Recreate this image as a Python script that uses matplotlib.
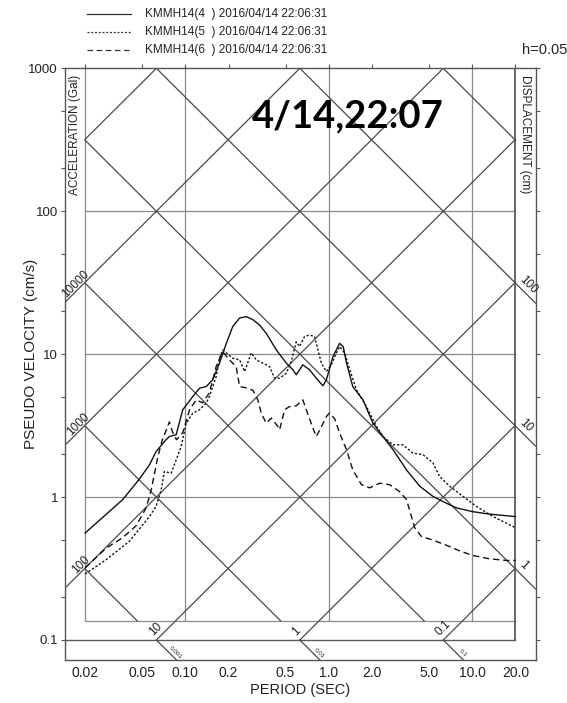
import numpy as np
import matplotlib
matplotlib.use("Agg")
import matplotlib.pyplot as plt
from matplotlib.ticker import FixedLocator, FixedFormatter, NullFormatter

plt.rcParams['font.family'] = ['Liberation Sans', 'DejaVu Sans']

# Pseudo-velocity response spectra (h = 0.05), KMMH14 channels 4, 5, 6
period_ch4 = [0.020, 0.0366, 0.0479, 0.0562, 0.0625, 0.0734, 0.0774, 0.0863, 0.0959, 0.1127,
              0.1256, 0.1396, 0.155, 0.173, 0.193, 0.214, 0.239, 0.266, 0.296, 0.329,
              0.366, 0.431, 0.506, 0.562, 0.593, 0.659, 0.734, 0.818, 0.910, 0.962,
              1.07, 1.19, 1.26, 1.33, 1.47, 1.73, 2.03, 2.39, 2.81, 3.48,
              4.31, 5.33, 6.25, 7.76, 10.1, 13.2, 20.0]
psv_ch4 = [0.56, 0.96, 1.34, 1.68, 2.08, 2.52, 2.65, 2.73, 4.08, 5.05,
           5.78, 5.93, 6.61, 8.65, 11.9, 15.6, 17.9, 18.3, 17.4, 16.0,
           14.0, 10.7, 8.65, 7.77, 7.17, 8.42, 7.77, 6.79, 6.0, 6.61,
           9.62, 11.9, 11.3, 8.65, 5.93, 4.79, 3.29, 2.65, 2.14, 1.55,
           1.19, 1.01, 0.93, 0.84, 0.79, 0.76, 0.73]

period_ch5 = [0.020, 0.0281, 0.0407, 0.0562, 0.0625, 0.0678, 0.0714, 0.0796, 0.0863, 0.0935,
              0.1014, 0.1127, 0.1256, 0.1396, 0.147, 0.164, 0.173, 0.182, 0.214, 0.239,
              0.259, 0.288, 0.312, 0.347, 0.386, 0.419, 0.454, 0.506, 0.548, 0.593,
              0.625, 0.678, 0.734, 0.796, 0.887, 0.962, 1.04, 1.13, 1.19, 1.29,
              1.40, 1.56, 1.83, 2.15, 2.39, 2.81, 3.29, 3.86, 4.54, 5.33,
              5.93, 6.97, 8.63, 10.7, 14.0, 20.0]
psv_ch5 = [0.29, 0.365, 0.49, 0.73, 0.86, 1.12, 1.51, 1.47, 1.82, 2.26,
           3.29, 3.87, 4.08, 4.54, 5.05, 6.97, 9.37, 10.7, 9.37, 9.12,
           7.56, 10.2, 9.12, 8.65, 8.19, 6.79, 6.79, 7.36, 8.88, 12.2,
           11.3, 13.3, 13.6, 13.3, 8.65, 7.56, 8.42, 10.2, 11.3, 10.2,
           7.77, 5.63, 4.30, 3.12, 2.65, 2.32, 2.32, 2.03, 1.98, 1.73,
           1.39, 1.19, 1.01, 0.86, 0.73, 0.61]

period_ch6 = [0.020, 0.0281, 0.0366, 0.0454, 0.0533, 0.0578, 0.061, 0.0643, 0.0692, 0.0738,
              0.0774, 0.0813, 0.0867, 0.0959, 0.107, 0.119, 0.132, 0.147, 0.164, 0.182,
              0.203, 0.226, 0.239, 0.273, 0.296, 0.320, 0.338, 0.366, 0.397, 0.442,
              0.454, 0.492, 0.533, 0.593, 0.659, 0.697, 0.774, 0.818, 0.887, 0.962,
              1.01, 1.10, 1.19, 1.33, 1.47, 1.69, 1.93, 2.26, 2.66, 3.12,
              3.48, 3.77, 3.97, 4.42, 5.33, 6.61, 8.18, 10.1, 13.2, 17.3, 20.0]
psv_ch6 = [0.32, 0.44, 0.52, 0.63, 0.84, 1.12, 1.47, 1.92, 2.52, 2.96,
           3.36, 2.86, 2.52, 2.82, 4.08, 4.79, 4.56, 5.36, 8.19, 10.4,
           9.12, 8.19, 5.93, 5.78, 5.58, 4.79, 3.87, 3.29, 3.57, 3.12,
           2.96, 4.08, 4.30, 4.35, 4.79, 4.08, 3.05, 2.65, 3.10, 3.66,
           3.87, 3.53, 2.80, 2.14, 1.55, 1.22, 1.16, 1.25, 1.22, 1.09,
           0.96, 0.73, 0.61, 0.53, 0.50, 0.46, 0.42, 0.39, 0.37, 0.36, 0.36]

legend_labels = ["KMMH14(4  ) 2016/04/14 22:06:31",
                 "KMMH14(5  ) 2016/04/14 22:06:31",
                 "KMMH14(6  ) 2016/04/14 22:06:31"]

period_ticks = [0.02, 0.05, 0.1, 0.2, 0.5, 1.0, 2.0, 5.0, 10.0, 20.0]
period_tick_labels = ["0.02", "0.05", "0.10", "0.2", "0.5", "1.0", "2.0", "5.0", "10.0", "20.0"]
velocity_ticks = [0.1, 1, 10, 100, 1000]
velocity_tick_labels = ["0.1", "1", "10", "100", "1000"]

accel_values = [0.1, 1, 10, 100, 1000, 10000, 100000]      # Gal
accel_left_labels = [100, 1000, 10000]
accel_bottom_labels = {10: "10", 1: "1", 0.1: "0.1"}
disp_values = [0.001, 0.01, 0.1, 1, 10, 100, 1000]        # cm
disp_right_labels = {1: "1", 10: "10", 100: "100"}
disp_bottom_labels = {0.001: "0.001", 0.01: "0.01", 0.1: "0.1"}

# chart frame
T_LO, T_HI = 0.02, 20.0
V_LAB, V_TOP = 0.1, 1000.0
V_BOX = 0.136
PAD = 10 ** 0.14
X_MIN, X_MAX = T_LO / PAD, T_HI * PAD
Y_MIN = V_LAB / PAD
TWO_PI = 2 * np.pi

W, H = 567, 703
fig = plt.figure(figsize=(W / 100, H / 100), dpi=100)


def fx(px):
    return px / W


def fy(py):
    return 1 - py / H


ax = fig.add_axes([fx(65), fy(660), fx(535.5) - fx(65), fy(68.3) - fy(660)])
ax.set_xscale('log')
ax.set_yscale('log')
ax.set_xlim(X_MIN, X_MAX)
ax.set_ylim(Y_MIN, V_TOP)

GRID = '#8a8a8a'
DIAG = '#4a4a4a'
BOX = '#5a5a5a'
TXT = '#222222'
for s in ax.spines.values():
    s.set_color('#555555')
    s.set_linewidth(1.0)

# rectangular grid
for v in [1, 10, 100]:
    ax.plot([T_LO, T_HI], [v, v], color=GRID, lw=0.9)
ax.plot([X_MIN, T_HI], [V_LAB, V_LAB], color=BOX, lw=1.0)
for t in [0.1, 1, 10]:
    ax.plot([t, t], [V_BOX, V_TOP], color=GRID, lw=0.9)
ax.plot([T_LO, T_LO, T_HI], [V_TOP, V_BOX, V_BOX], color=GRID, lw=0.9)
ax.plot([T_HI, T_HI], [V_LAB, V_TOP], color=BOX, lw=1.3)


def accel_v(a, t):
    return a * t / TWO_PI


def disp_v(d, t):
    return TWO_PI * d / t


lab_fs = 8.5
# constant-acceleration lines (slope +1)
for a in accel_values:
    if a in accel_left_labels:
        t0 = X_MIN
    else:
        t0 = max(T_LO, TWO_PI * V_LAB / a)
    t1 = min(T_HI, TWO_PI * V_TOP / a)
    ax.plot([t0, t1], [accel_v(a, t0), accel_v(a, t1)], color=DIAG, lw=0.9)
    if a in accel_left_labels:
        ax.annotate(f"{a:g}", xy=(T_LO, accel_v(a, T_LO)), xytext=(5, 4),
                    textcoords='offset points', rotation=45, rotation_mode='anchor',
                    ha='right', va='bottom', fontsize=lab_fs, color=TXT)
    if a in accel_bottom_labels:
        ax.annotate(accel_bottom_labels[a], xy=(t0, V_LAB), xytext=(-1, 1),
                    textcoords='offset points', rotation=45, rotation_mode='anchor',
                    ha='left', va='bottom', fontsize=lab_fs, color=TXT)

# constant-displacement lines (slope -1)
for d in disp_values:
    t0 = max(T_LO, TWO_PI * d / V_TOP)
    if d in disp_right_labels:
        t1 = X_MAX
    else:
        t1 = min(T_HI, TWO_PI * d / V_BOX)
    ax.plot([t0, t1], [disp_v(d, t0), disp_v(d, t1)], color=DIAG, lw=0.9)
    if d in disp_right_labels:
        ax.annotate(disp_right_labels[d], xy=(T_HI, disp_v(d, T_HI)), xytext=(1, 1),
                    textcoords='offset points', rotation=-45, rotation_mode='anchor',
                    ha='left', va='bottom', fontsize=lab_fs, color=TXT)
    if d in disp_bottom_labels:
        ta, tb = TWO_PI * d / V_LAB, TWO_PI * d / Y_MIN
        ax.plot([ta, tb], [V_LAB, Y_MIN], color=DIAG, lw=0.9)
        tm = ta * (tb / ta) ** 0.8
        ax.annotate(disp_bottom_labels[d], xy=(tm, disp_v(d, tm)), xytext=(1, 1),
                    textcoords='offset points', rotation=-45, rotation_mode='anchor',
                    ha='center', va='bottom', fontsize=4.5, color=TXT)

# spectra
ax.plot(period_ch4, psv_ch4, color='#111111', lw=1.0, ls='-')
ax.plot(period_ch5, psv_ch5, color='#111111', lw=1.0, ls=(0, (1.6, 1.4)))
ax.plot(period_ch6, psv_ch6, color='#111111', lw=1.0, ls=(0, (4.5, 2.8)))

# axes ticks
ax.xaxis.set_major_locator(FixedLocator(period_ticks))
ax.xaxis.set_major_formatter(FixedFormatter(period_tick_labels))
ax.xaxis.set_minor_locator(FixedLocator([]))
ax.yaxis.set_major_locator(FixedLocator(velocity_ticks))
ax.yaxis.set_major_formatter(FixedFormatter(velocity_tick_labels))
minor_v = [m * 10.0 ** k for k in range(-1, 3) for m in (2, 5)]
ax.yaxis.set_minor_locator(FixedLocator(minor_v))
ax.yaxis.set_minor_formatter(NullFormatter())
ax.tick_params(axis='x', which='both', direction='out', top=True, bottom=False,
               length=3, width=0.8, color='#555555', labelsize=10, pad=1.5,
               labelcolor=TXT)
ax.tick_params(axis='y', which='both', direction='out', left=True, right=True,
               length=3, width=0.8, color='#555555', labelsize=9.5, pad=2,
               labelcolor=TXT)

fig.text(fx(300), fy(690), "PERIOD (SEC)", fontsize=10.5, ha='center', va='center',
         color=TXT)
fig.text(fx(31), fy(354), "PSEUDO VELOCITY (cm/s)", fontsize=11, rotation=90,
         ha='center', va='center', color=TXT)

ax.text(0.02 / 10 ** 0.07, 900, "ACCELERATION (Gal)", rotation=90, ha='center', va='top',
        fontsize=8.5, color=TXT)
ax.text(20 * 10 ** 0.07, 900, "DISPLACEMENT (cm)", rotation=-90, ha='center', va='top',
        fontsize=8.5, color=TXT)

# title
fig.text(fx(252), fy(127), "4/14,22:07", fontsize=27.5, fontweight='bold',
         family=['Lato', 'DejaVu Sans'], ha='left', va='baseline')

# legend
styles = ['-', (0, (1.6, 1.4)), (0, (4.5, 2.8))]
rows = [14, 32, 50]
for lbl, st, yy in zip(legend_labels, styles, rows):
    fig.add_artist(plt.Line2D([fx(87), fx(131)], [fy(yy), fy(yy)], color='#333333',
                              lw=0.9, ls=st))
    fig.text(fx(145), fy(yy), lbl, fontsize=8.5, ha='left', va='center', color=TXT)
fig.text(fx(567), fy(50), "h=0.05", fontsize=10.5, ha='right', va='center', color=TXT)

fig.savefig("out.png", dpi=100)
